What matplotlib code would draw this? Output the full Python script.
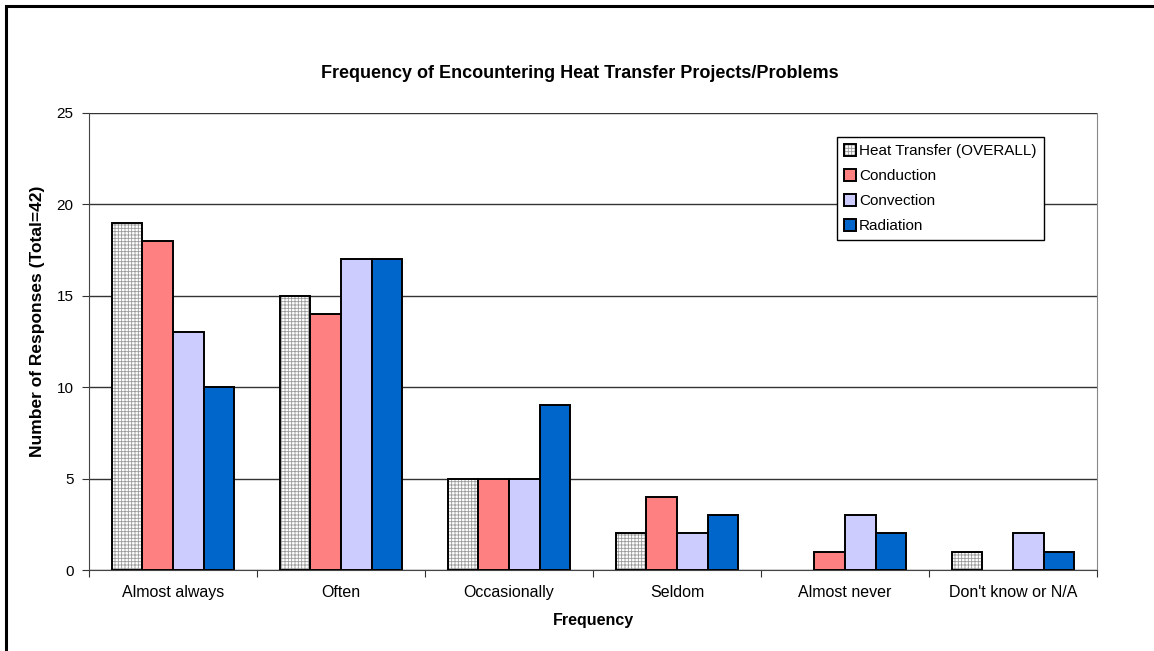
import matplotlib
matplotlib.use("Agg")
import matplotlib.pyplot as plt
from matplotlib.patches import Patch, Rectangle
import numpy as np

categories = ["Almost always", "Often", "Occasionally", "Seldom", "Almost never", "Don't know or N/A"]
series_names = ["Heat Transfer (OVERALL)", "Conduction", "Convection", "Radiation"]
overall = [19, 15, 5, 2, 0, 1]
conduction = [18, 14, 5, 4, 1, 0]
convection = [13, 17, 5, 2, 3, 2]
radiation = [10, 17, 9, 3, 2, 1]
y_ticks = [0, 5, 10, 15, 20, 25]

plt.rcParams["font.family"] = ["Liberation Sans", "DejaVu Sans"]
plt.rcParams["hatch.linewidth"] = 0.6

W, H = 1154, 651
fig = plt.figure(figsize=(W / 100, H / 100), dpi=100)

# outer chart border
fig.patches.append(Rectangle((6 / W, -0.1), 1.2, 1 - 6 / H + 0.1, transform=fig.transFigure,
                             fill=False, edgecolor="black", linewidth=2.2))

ax = fig.add_axes([89 / W, 1 - 570 / H, (1097 - 89) / W, (570 - 113) / H])

x = np.arange(len(categories))
bw = 0.182
offsets = np.array([-1.5, -0.5, 0.5, 1.5]) * bw


def edge_widths(vals):
    # zero-height bars draw nothing in the original
    return [1.4 if v > 0 else 0 for v in vals]


# overall: grey grid hatch with black outline
ax.bar(x + offsets[0], overall, bw, color="white", edgecolor="#9a9a9a", hatch="+++++", linewidth=0, zorder=3)
ax.bar(x + offsets[0], overall, bw, fill=False, edgecolor="black", linewidth=edge_widths(overall), zorder=4)
ax.bar(x + offsets[1], conduction, bw, color="#FF8080", edgecolor="black", linewidth=edge_widths(conduction), zorder=3)
ax.bar(x + offsets[2], convection, bw, color="#CCCCFF", edgecolor="black", linewidth=edge_widths(convection), zorder=3)
ax.bar(x + offsets[3], radiation, bw, color="#0066CC", edgecolor="black", linewidth=edge_widths(radiation), zorder=3)

ax.set_xlim(-0.5, len(categories) - 0.5)
ax.set_ylim(0, 25)
ax.set_yticks(y_ticks)
ax.yaxis.grid(True, color="#333333", linewidth=1.0)
ax.set_axisbelow(True)
ax.tick_params(axis="y", labelsize=11, length=5, color="#333333", pad=6)

ax.set_xticks(np.arange(len(categories) + 1) - 0.5)
ax.set_xticklabels([])
ax.set_xticks(x, minor=True)
ax.set_xticklabels(categories, minor=True)
ax.tick_params(axis="x", which="major", length=5, color="#333333")
ax.tick_params(axis="x", which="minor", length=0, labelsize=11.5, pad=11)

for side in ["left", "bottom"]:
    ax.spines[side].set_color("#444444")
ax.spines["right"].set_color("#888888")
ax.spines["top"].set_visible(False)

ax.set_xlabel("Frequency", fontsize=11.5, fontweight="bold", labelpad=9)
ax.set_ylabel("Number of Responses (Total=42)", fontsize=12.5, fontweight="bold")
ax.yaxis.set_label_coords(-0.044, 0.545)
fig.text(0.5 * (243 + 917) / W, 1 - 73 / H, "Frequency of Encountering Heat Transfer Projects/Problems",
         ha="center", va="center", fontsize=13, fontweight="bold")

h0 = (Patch(facecolor="white", edgecolor="#9a9a9a", hatch="+++++", linewidth=0),
      Patch(fill=False, edgecolor="black", linewidth=1.4))
h1 = Patch(facecolor="#FF8080", edgecolor="black", linewidth=1.4)
h2 = Patch(facecolor="#CCCCFF", edgecolor="black", linewidth=1.4)
h3 = Patch(facecolor="#0066CC", edgecolor="black", linewidth=1.4)
leg = fig.legend([h0, h1, h2, h3], series_names, loc="upper left",
                 bbox_to_anchor=(837 / W, 1 - 137 / H), fontsize=11, fancybox=False,
                 framealpha=1, edgecolor="black", handlelength=0.8, handleheight=0.8,
                 handletextpad=0.2, labelspacing=0.72, borderpad=0.45, borderaxespad=0)
leg.get_frame().set_linewidth(1.0)

fig.savefig("out.png", dpi=100)
